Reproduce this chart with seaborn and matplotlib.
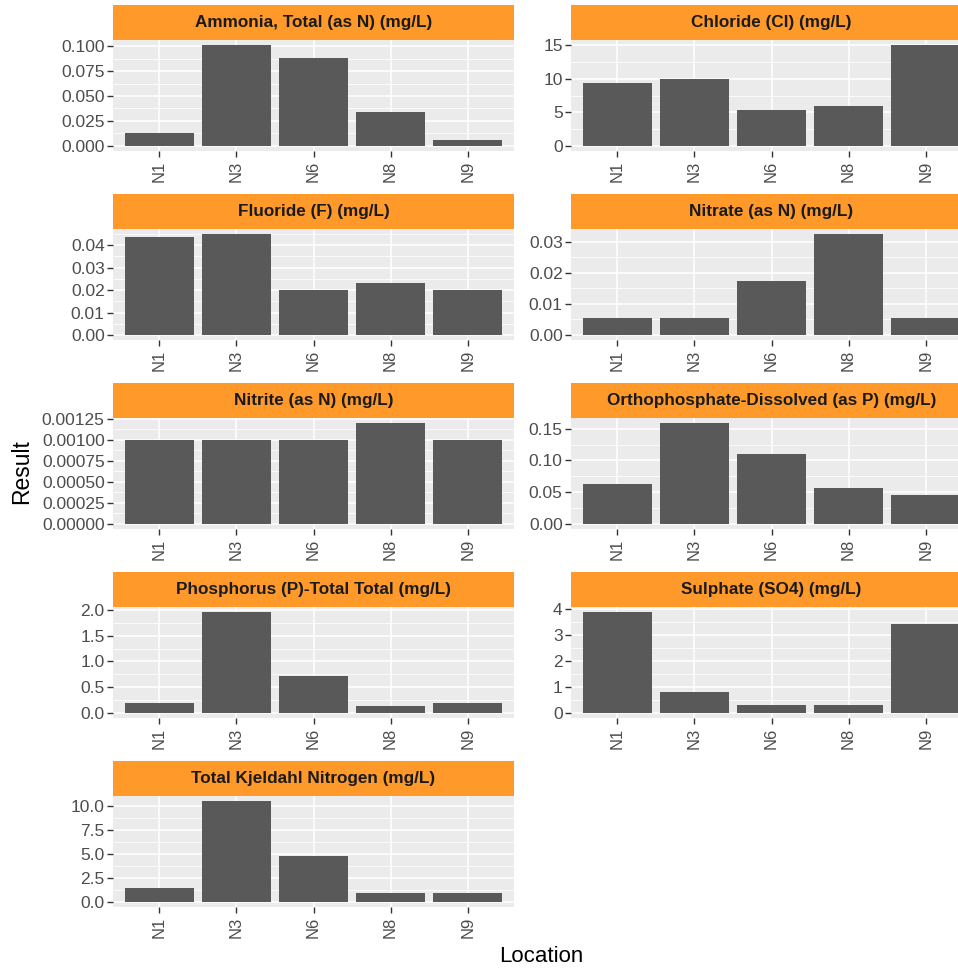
import matplotlib
matplotlib.use("Agg")
import matplotlib.pyplot as plt
import seaborn as sns
import pandas as pd
import numpy as np
from matplotlib.ticker import FixedLocator, FixedFormatter, AutoMinorLocator

locations = ["N1", "N3", "N6", "N8", "N9"]

ammonia = [0.013, 0.101, 0.088, 0.034, 0.006]
chloride = [9.4, 9.9, 5.3, 6.0, 15.0]
fluoride = [0.0435, 0.045, 0.020, 0.023, 0.020]
nitrate = [0.0055, 0.0055, 0.0173, 0.0325, 0.0055]
nitrite = [0.0010, 0.0010, 0.0010, 0.0012, 0.0010]
orthophosphate = [0.063, 0.159, 0.110, 0.056, 0.046]
phosphorus = [0.19, 1.96, 0.71, 0.13, 0.19]
sulphate = [3.9, 0.8, 0.32, 0.32, 3.43]
tkn = [1.5, 10.5, 4.8, 0.9, 0.9]

params = [
    "Ammonia, Total (as N) (mg/L)",
    "Chloride (Cl) (mg/L)",
    "Fluoride (F) (mg/L)",
    "Nitrate (as N) (mg/L)",
    "Nitrite (as N) (mg/L)",
    "Orthophosphate-Dissolved (as P) (mg/L)",
    "Phosphorus (P)-Total Total (mg/L)",
    "Sulphate (SO4) (mg/L)",
    "Total Kjeldahl Nitrogen (mg/L)",
]
series = [ammonia, chloride, fluoride, nitrate, nitrite, orthophosphate,
          phosphorus, sulphate, tkn]
ticks = [
    [0, 0.025, 0.05, 0.075, 0.1],
    [0, 5, 10, 15],
    [0, 0.01, 0.02, 0.03, 0.04],
    [0, 0.01, 0.02, 0.03],
    [0, 0.00025, 0.0005, 0.00075, 0.001, 0.00125],
    [0, 0.05, 0.10, 0.15],
    [0, 0.5, 1.0, 1.5, 2.0],
    [0, 1, 2, 3, 4],
    [0, 2.5, 5.0, 7.5, 10.0],
]
decimals = [3, 0, 2, 2, 5, 2, 1, 0, 1]

df = pd.DataFrame({
    "Parameter": np.repeat(params, len(locations)),
    "Location": locations * len(params),
    "Result": np.concatenate(series),
})

sns.set_theme(style="darkgrid")
plt.rcParams["font.family"] = ["Liberation Sans", "DejaVu Sans"]

W, H = 958, 968
fig = plt.figure(figsize=(W / 100, H / 100), dpi=100)

col_left = [113, 571]
panel_w = 401
strip_h = 35
panel_h = 111
row_top = [5, 194, 383, 572, 761]

bar_color = "#595959"
strip_color = "#FF9A2A"
tick_color = "#4D4D4D"

for i, p in enumerate(params):
    r, c = divmod(i, 2)
    x0 = col_left[c]
    ys = row_top[r]
    yp = ys + strip_h
    ax = fig.add_axes([x0 / W, 1 - (yp + panel_h) / H, panel_w / W, panel_h / H])
    sax = fig.add_axes([x0 / W, 1 - yp / H, panel_w / W, strip_h / H])
    sub = df[df["Parameter"] == p]
    sns.barplot(data=sub, x="Location", y="Result", order=locations, ax=ax,
                color=bar_color, saturation=1, width=0.9, errorbar=None,
                edgecolor="none")
    vmax = sub["Result"].max()
    ax.set_ylim(-0.05 * vmax, 1.05 * vmax)
    ax.set_xlim(-0.6, 4.6)
    ax.set_facecolor("#EBEBEB")
    ax.yaxis.set_major_locator(FixedLocator(ticks[i]))
    ax.yaxis.set_major_formatter(FixedFormatter([f"{t:.{decimals[i]}f}" for t in ticks[i]]))
    ax.yaxis.set_minor_locator(AutoMinorLocator(2))
    ax.grid(which="major", color="white", linewidth=1.1)
    ax.grid(which="minor", axis="y", color="white", linewidth=0.55)
    ax.set_axisbelow(True)
    for s in ax.spines.values():
        s.set_visible(False)
    ax.tick_params(axis="both", which="major", length=4, width=1, color="#333333",
                   labelcolor=tick_color, pad=2, left=True, bottom=True)
    ax.tick_params(axis="y", labelsize=12.5)
    ax.tick_params(axis="x", labelsize=12, labelrotation=90, pad=3)
    ax.tick_params(axis="y", which="minor", length=0)
    ax.set_xlabel("")
    ax.set_ylabel("")
    sax.set_facecolor(strip_color)
    sax.set_xticks([])
    sax.set_yticks([])
    for s in sax.spines.values():
        s.set_visible(False)
    sax.text(0.5, 0.5, p, ha="center", va="center", fontsize=12.3,
             fontweight="bold", color="#1A1A1A", transform=sax.transAxes)

fig.text(22 / W, 1 - 472 / H, "Result", rotation=90, ha="center", va="center",
         fontsize=16.5, color="black")
fig.text(541 / W, 1 - 956 / H, "Location", ha="center", va="center",
         fontsize=16, color="black")

fig.savefig("out.png", dpi=100, facecolor="white")
